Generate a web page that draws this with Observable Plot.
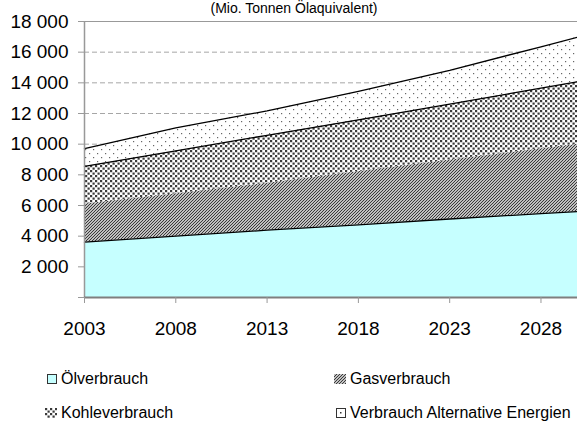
<!DOCTYPE html>
<html><head><meta charset="utf-8">
<script src="https://cdn.jsdelivr.net/npm/d3@7"></script>
<script src="https://cdn.jsdelivr.net/npm/@observablehq/plot@0.6"></script>
<style>
body{margin:0;background:#fff;font-family:"Liberation Sans",Arial,sans-serif;}
#wrap{position:relative;width:577px;height:422px;overflow:hidden;background:#fff;}
#chart{position:absolute;left:0;top:0;}
#sub{position:absolute;left:0;width:588px;text-align:center;top:1px;font-size:14px;line-height:15px;color:#000;}
.leg{position:absolute;font-size:16px;line-height:18px;display:flex;align-items:center;white-space:nowrap;color:#000;}
.leg svg{margin-right:3px;display:block}
</style></head><body>
<svg width="0" height="0" style="position:absolute;left:0;top:0"><defs>
<pattern id="pGas" patternUnits="userSpaceOnUse" width="3" height="3">
<rect width="3" height="3" fill="#fff"/>
<path d="M-1,1 l2,-2 M0,3 l3,-3 M2,4 l2,-2" stroke="#333" stroke-width="1.2"/>
</pattern>
<pattern id="pKohle" patternUnits="userSpaceOnUse" width="5" height="5">
<rect width="5" height="5" fill="#fff"/>
<rect x="0" y="0" width="2.2" height="2.2" fill="#3a3a3a"/>
<rect x="2.5" y="2.5" width="2.2" height="2.2" fill="#3a3a3a"/>
</pattern>
<pattern id="pAlt" patternUnits="userSpaceOnUse" width="8" height="8">
<rect width="8" height="8" fill="#fff"/>
<rect x="1" y="1" width="1.2" height="1.2" fill="#666"/>
<rect x="5" y="5" width="1.2" height="1.2" fill="#666"/>
</pattern>
</defs></svg>
<div id="wrap"><div id="chart"></div><div id="sub">(Mio. Tonnen Ölaquivalent)</div><div id="legend"></div></div>
<script>
// ---- data ----
const years = [2003, 2008, 2013, 2018, 2023, 2028, 2030];
const oel   = [3610, 4000, 4390, 4740, 5120, 5470, 5600];
const gas   = [2490, 2770, 3060, 3480, 3850, 4230, 4400];
const kohle = [2445, 2790, 3130, 3370, 3640, 3950, 4070];
const alt   = [1170, 1500, 1590, 1850, 2210, 2700, 2900];
const seriesNames = ["Ölverbrauch", "Gasverbrauch", "Kohleverbrauch", "Verbrauch Alternative Energien"];
const yTicks = [0, 2000, 4000, 6000, 8000, 10000, 12000, 14000, 16000, 18000];
const xTicks = [2003, 2008, 2013, 2018, 2023, 2028];

const seriesValues = [oel, gas, kohle, alt];
const fills = ["#c6ffff", "url(#pGas)", "url(#pKohle)", "url(#pAlt)"];
const outlined = ["Ölverbrauch", "Kohleverbrauch", "Verbrauch Alternative Energien"];

const data = seriesNames.flatMap((s, i) => years.map((yr, j) => ({year: yr, value: seriesValues[i][j], series: s})));

function stackTopFiltered(keep) {
  const s = Plot.stackY2({x: "year", y: "value", z: "series"});
  const t = s.transform;
  return {...s, transform(d, facets, ...rest) {
    const r = t(d, facets, ...rest);
    return {data: r.data, facets: r.facets.map(f => Array.from(f).filter(i => keep.includes(r.data[i].series)))};
  }};
}

const fmt = d => d === 0 ? "" : d3.format(",")(d).replace(/,/g, " ");
const H = 345;
const chart = Plot.plot({
  width: 577, height: H,
  marginLeft: 84, marginRight: 0, marginTop: 21, marginBottom: H - 297,
  style: {fontFamily: "'Liberation Sans', Arial, sans-serif", fontSize: "19px", color: "#000", background: "#fff", overflow: "visible"},
  x: {domain: [2003, 2030]},
  y: {domain: [0, 18000]},
  color: {domain: seriesNames, range: fills},
  marks: [
    Plot.ruleY(yTicks.slice(1, -1), {stroke: "#a6a6a6", strokeDasharray: "5,3"}),
    Plot.ruleY([18000], {stroke: "#999", strokeWidth: 1.2}),
    Plot.areaY(data, Plot.stackY({x: "year", y: "value", z: "series", fill: "series"})),
    Plot.lineY(data, {...stackTopFiltered(outlined), stroke: "#000", strokeWidth: 1.3}),
    Plot.ruleX([2003], {stroke: "#999", strokeWidth: 1.5}),
    Plot.ruleY([0], {stroke: "#7f7f7f", strokeWidth: 2}),
    Plot.axisY(yTicks, {tickSize: 6, tickPadding: 10, stroke: "#999", tickFormat: fmt, label: null}),
    Plot.axisX(xTicks, {tickSize: 6, tickPadding: 18, stroke: "#999", tickFormat: d => String(d), label: null})
  ]
});
document.getElementById("chart").appendChild(chart);

// ---- legend ----
const icons = [
  `<svg width="11" height="11"><rect x="0.5" y="0.5" width="9" height="9" fill="#c6ffff" stroke="#333"/></svg>`,
  `<svg width="13" height="11"><rect x="0" y="0" width="12" height="10" fill="url(#pGas)"/></svg>`,
  `<svg width="13" height="11"><rect x="0" y="0" width="12" height="10" fill="url(#pKohle)"/></svg>`,
  `<svg width="11" height="11"><rect x="0.5" y="0.5" width="9" height="9" fill="#fff" stroke="#333"/><rect x="4" y="4" width="1.5" height="1.5" fill="#333"/></svg>`
];
const legPos = [[47, 370], [334, 370], [45, 404], [336, 404]];
const leg = document.getElementById("legend");
seriesNames.forEach((s, i) => {
  const d = document.createElement("div");
  d.className = "leg";
  d.style.left = legPos[i][0] + "px";
  d.style.top = legPos[i][1] + "px";
  d.innerHTML = icons[i] + `<span>${s}</span>`;
  leg.appendChild(d);
});
</script>
</body></html>
